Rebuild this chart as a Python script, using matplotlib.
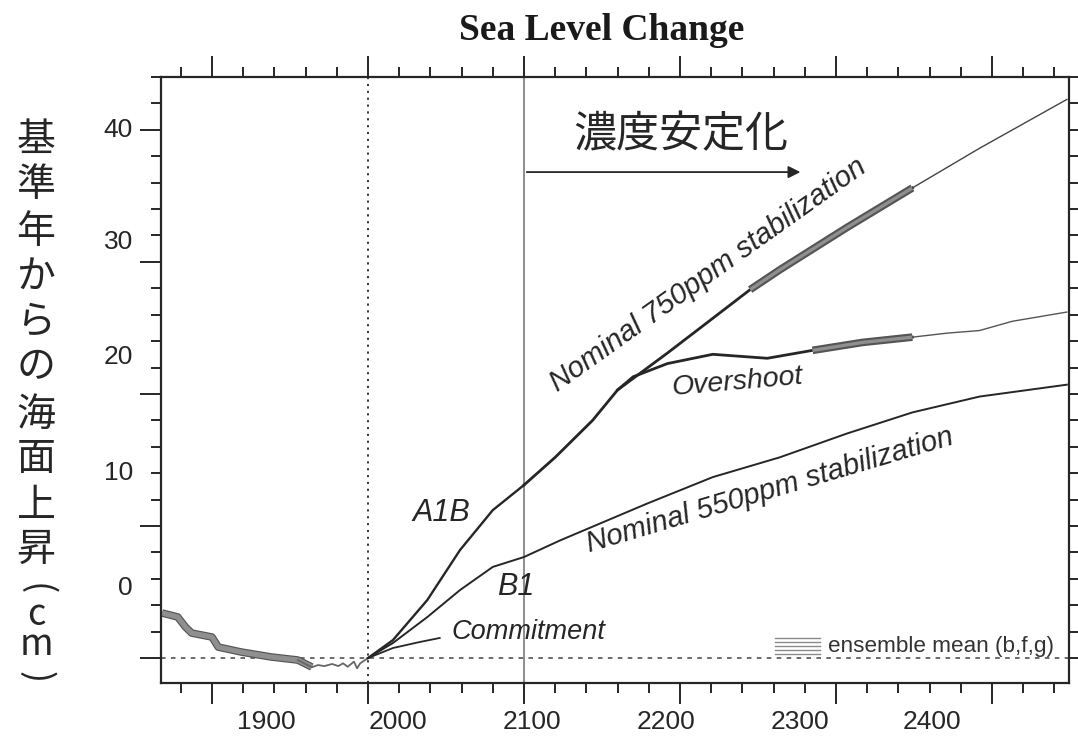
import matplotlib
matplotlib.use("Agg")
import matplotlib.pyplot as plt
import matplotlib.patheffects as pe
from matplotlib.ticker import MultipleLocator

# ---- data (year, sea level change in cm) ----
hist_years = [1868, 1878, 1883, 1887, 1900, 1904, 1919, 1938, 1955, 1964]
hist_cm = [3.41, 3.11, 2.35, 1.89, 1.59, 0.83, 0.45, 0.08, -0.15, -0.68]
hist_tail_years = [1955, 1964, 1968, 1972, 1977, 1981, 1984, 1987, 1991, 1993, 1995, 2000]
hist_tail_cm = [-0.15, -0.70, -0.53, -0.61, -0.45, -0.61, -0.40, -0.66, -0.27, -0.78, -0.40, 0.0]

a1b_years = [2000, 2016, 2038, 2059, 2080, 2100]
a1b_cm = [0.0, 1.36, 4.39, 8.18, 11.2, 13.1]

s750_years = [2100, 2120, 2144, 2160, 2192, 2213, 2245, 2264, 2307, 2349]
s750_cm = [13.1, 15.2, 18.0, 20.3, 23.1, 25.0, 27.9, 29.4, 32.6, 35.6]
s750_ext_years = [2349, 2392, 2448]
s750_ext_cm = [35.6, 38.6, 42.3]

over_years = [2160, 2170, 2192, 2221, 2256, 2285, 2317, 2349]
over_cm = [20.3, 21.3, 22.3, 23.0, 22.7, 23.3, 23.9, 24.3]
over_ext_years = [2349, 2371, 2392, 2413, 2448]
over_ext_cm = [24.3, 24.6, 24.8, 25.5, 26.2]

b1_years = [2000, 2016, 2038, 2059, 2080, 2100, 2123, 2161, 2179, 2221, 2264, 2307, 2349, 2392, 2448]
b1_cm = [0.0, 1.14, 3.1, 5.15, 6.9, 7.65, 8.9, 10.8, 11.7, 13.7, 15.2, 17.0, 18.6, 19.8, 20.7]

commit_years = [2000, 2016, 2033, 2046]
commit_cm = [0.0, 0.76, 1.21, 1.52]

x_labels = ["1900", "2000", "2100", "2200", "2300", "2400"]
x_label_pos = [1934.6, 2019.2, 2105.1, 2191.0, 2276.9, 2361.5]
y_labels = ["0", "10", "20", "30", "40"]
y_label_pos = [5.3, 14.0, 22.8, 31.5, 40.0]

ylabel_kanji = ["基", "準", "年", "か", "ら", "の", "海", "面", "上", "昇"]

INK = "#262626"
SANS = ["Liberation Sans", "DejaVu Sans"]
CJK = ["Noto Sans CJK JP", "DejaVu Sans"]

W, H = 1078, 736
fig = plt.figure(figsize=(W / 100, H / 100), dpi=100)
ax = fig.add_axes([161 / W, 1 - 683 / H, (1069 - 161) / W, (683 - 77) / H])
ax.set_xlim(1867.3, 2449.4)
ax.set_ylim(-1.89, 44.0)

for s in ax.spines.values():
    s.set_linewidth(1.6)
    s.set_color(INK)

ax.xaxis.set_major_locator(MultipleLocator(100))
ax.xaxis.set_minor_locator(MultipleLocator(20))
ax.yaxis.set_major_locator(MultipleLocator(10))
ax.yaxis.set_minor_locator(MultipleLocator(2))
ax.tick_params(which="both", direction="out", top=True, right=True,
               labelbottom=False, labelleft=False, color=INK, width=1.4)
ax.tick_params(which="major", length=15)
ax.tick_params(which="minor", length=7)

# reference lines
ax.axvline(2000, color=INK, lw=1.3, ls=(0, (1.2, 2.6)))
ax.axvline(2100, color="#7a7a7a", lw=1.2)
ax.axhline(0, color="#444444", lw=1.1, ls=(0, (3, 3.5)))

band = dict(color="#8f8f8f", solid_capstyle="butt",
            path_effects=[pe.Stroke(linewidth=5.5, foreground="#555555"), pe.Normal()])

# historical
ax.plot(hist_years, hist_cm, lw=3.8, **band)
ax.plot(hist_tail_years, hist_tail_cm, color="#666666", lw=1.3)

# scenarios
ax.plot(a1b_years, a1b_cm, color=INK, lw=1.7)
ax.plot(s750_years, s750_cm, color=INK, lw=2.0)
ax.plot(s750_years[6:], s750_cm[6:], lw=2.4, **band)
ax.plot(s750_ext_years, s750_ext_cm, color="#444444", lw=1.0)
ax.plot(over_years, over_cm, color=INK, lw=2.0)
ax.plot(over_years[5:], over_cm[5:], lw=2.4, **band)
ax.plot(over_ext_years, over_ext_cm, color="#555555", lw=1.0)
ax.plot(b1_years, b1_cm, color=INK, lw=1.4)
ax.plot(commit_years, commit_cm, color=INK, lw=1.3)

# stabilization arrow
ax.annotate("", xy=(2279, 36.8), xytext=(2100, 36.8),
            arrowprops=dict(arrowstyle="-|>", color=INK, lw=1.3, mutation_scale=18))
ax.text(2200.6, 39.6, "濃度安定化", fontsize=31, family=CJK, color=INK,
        ha="center", va="center")

# curve labels
ital = dict(family=SANS, style="italic", color=INK)
ax.text(2047, 11.0, "A1B", fontsize=22, ha="center", va="center", **ital)
ax.text(2095, 5.4, "B1", fontsize=22, ha="center", va="center", **ital)
ax.text(2103, 1.95, "Commitment", fontsize=19.5, ha="center", va="center", **ital)
ax.text(2237, 20.9, "Overshoot", fontsize=20.5, ha="center", va="center",
        rotation=5, **ital)
ax.text(2218, 29.0, "Nominal 750ppm stabilization", fontsize=21, ha="center",
        va="center", rotation=35.5, rotation_mode="anchor", **ital)
ax.text(2257.7, 12.7, "Nominal 550ppm stabilization", fontsize=21, ha="center",
        va="center", rotation=16.5, rotation_mode="anchor", **ital)

# ensemble-mean key
for dy in (0.0, 0.3, 0.6, 0.9, 1.2):
    ax.plot([2261, 2289.7], [0.3 + dy, 0.3 + dy], color="#8a8a8a", lw=1.0)
ax.text(2294.9, 0.91, "ensemble mean (b,f,g)", fontsize=16.2, family=SANS,
        color="#333333", ha="left", va="center")

# tick labels
xt = ax.get_xaxis_transform()
for lab, pos in zip(x_labels, x_label_pos):
    ax.text(pos, -0.064, lab, transform=xt, fontsize=19, family=SANS,
            color=INK, ha="center", va="center")
yt = ax.get_yaxis_transform()
for lab, pos in zip(y_labels, y_label_pos):
    ax.text(-0.031, pos, lab, transform=yt, fontsize=19, family=SANS,
            color=INK, ha="right", va="center")

fig.text(602 / W, 1 - 31 / H, "Sea Level Change", fontsize=27, weight="bold",
         family=["Liberation Serif", "DejaVu Serif"], ha="center", va="center",
         color="#1a1a1a")

# vertical Japanese axis title
ys = [140, 185, 232, 277, 322, 367, 415, 459, 506, 550]
for ch, yp in zip(ylabel_kanji, ys):
    fig.text(36 / W, 1 - yp / H, ch, fontsize=28, family=CJK, color=INK,
             ha="center", va="center")
# unit in brackets, brackets turned for vertical writing
fig.text(36 / W, 1 - 589 / H, "(", fontsize=26, family=CJK, color=INK,
         ha="center", va="center", rotation=-90)
fig.text(36 / W, 1 - 630 / H, "c\nm", fontsize=26, family=CJK, color=INK,
         ha="center", va="center", linespacing=0.78)
fig.text(36 / W, 1 - 677 / H, ")", fontsize=26, family=CJK, color=INK,
         ha="center", va="center", rotation=-90)

fig.savefig("out.png", dpi=100, facecolor="white")
